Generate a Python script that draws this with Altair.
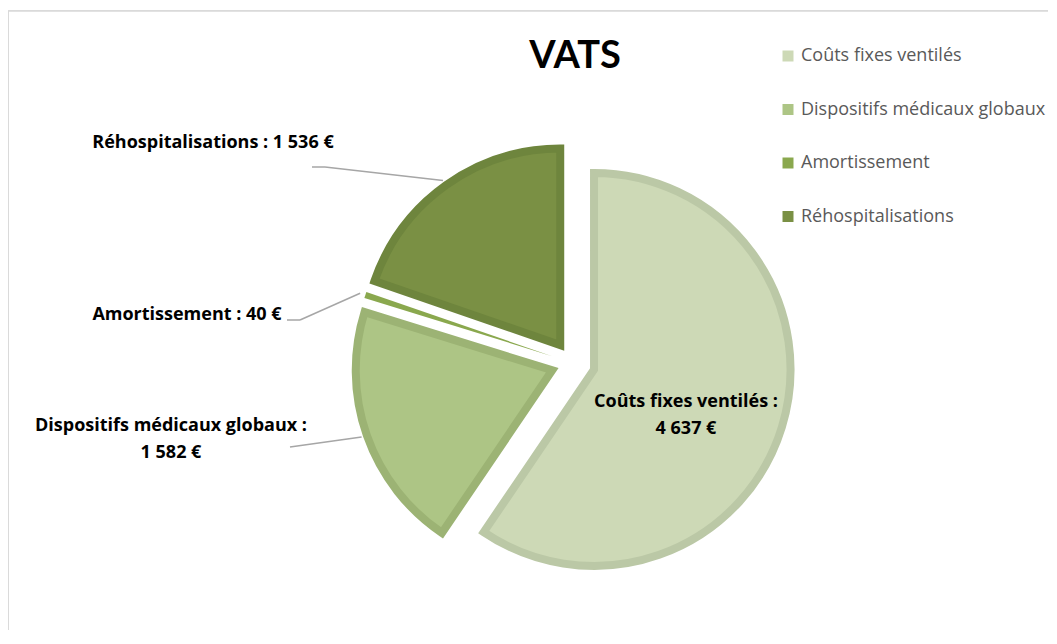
import altair as alt
import pandas as pd

# ---------------- data ----------------
categories = ["Coûts fixes ventilés", "Dispositifs médicaux globaux", "Amortissement", "Réhospitalisations"]
values = [4637, 1582, 40, 1536]
label_lines = [
    ["Coûts fixes ventilés  :", "4 637 €"],
    ["Dispositifs médicaux globaux :", "1 582 €"],
    ["Amortissement : 40 €"],
    ["Réhospitalisations : 1 536 €"],
]
title_text = "VATS"

# ---------------- styles / layout (view pixels) ----------------
fills = ["#cdd9b6", "#adc585", "#8aa84e", "#7a9044"]
strokes = ["#bbc8a6", "#9cb374", "#8aa84e", "#6e853d"]
stroke_widths = [8, 8, 0, 8]
CX, CY = 565, 353
EXPLODE = 22
RADIUS = 196.5
LEAD_R = 202
# label centre (x, y of first line) per category
label_xy = [(678, 392), (163, 416), (179, 305), (205, 133)]
# leader: start x, start y, elbow x  (None => no leader)
leader = [None, (282, 437, 282), (279, 310, 292), (304, 157, 317)]

rows = []
for i, c in enumerate(categories):
    ld = leader[i]
    rows.append({
        "cat": c, "value": values[i], "order": i,
        "stroke_col": strokes[i], "stroke_w": stroke_widths[i],
        "lines": label_lines[i], "lx": label_xy[i][0], "ly": label_xy[i][1],
        "has_lead": ld is not None,
        "sx": ld[0] if ld else 0, "sy": ld[1] if ld else 0, "ex": ld[2] if ld else 0,
    })
df = pd.DataFrame(rows)

base = (
    alt.Chart(df)
    .transform_joinaggregate(total="sum(value)")
    .transform_window(cum="sum(value)", sort=[alt.SortField("order")], frame=[None, 0])
    .transform_calculate(t0="(datum.cum - datum.value) / datum.total * 2 * PI")
    .transform_calculate(t1="datum.cum / datum.total * 2 * PI")
    .transform_calculate(mid="(datum.t0 + datum.t1) / 2")
    .transform_calculate(px=f"{CX} + {EXPLODE} * sin(datum.mid)")
    .transform_calculate(py=f"{CY} - {EXPLODE} * cos(datum.mid)")
    .transform_calculate(qx=f"datum.px + {LEAD_R} * sin(datum.mid)")
    .transform_calculate(qy=f"datum.py - {LEAD_R} * cos(datum.mid)")
)

arc_enc = dict(
    theta=alt.Theta("t0:Q", scale=None),
    theta2="t1:Q",
    x=alt.X("px:Q", scale=None, axis=None),
    y=alt.Y("py:Q", scale=None, axis=None),
)

arcs_fill = base.mark_arc(outerRadius=RADIUS, strokeWidth=0).encode(
    color=alt.Color(
        "cat:N",
        scale=alt.Scale(domain=categories, range=fills),
        sort=categories,
        legend=alt.Legend(
            title=None, orient="none", legendX=771, legendY=37,
            symbolType="square", symbolSize=121, symbolStrokeWidth=0,
            labelFont="Open Sans", labelFontSize=18, labelColor="#595959",
            labelOffset=4, rowPadding=35.5, labelLimit=400,
        ),
    ),
    **arc_enc,
)

arcs_stroke = base.mark_arc(outerRadius=RADIUS, fillOpacity=0, strokeJoin="miter").encode(
    stroke=alt.Stroke("stroke_col:N", scale=None),
    strokeWidth=alt.StrokeWidth("stroke_w:Q", scale=None),
    **arc_enc,
)

lead_base = base.transform_filter("datum.has_lead")
lead_h = lead_base.mark_rule(color="#a6a6a6", strokeWidth=1.5).encode(
    x=alt.X("sx:Q", scale=None, axis=None), y=alt.Y("sy:Q", scale=None, axis=None),
    x2="ex:Q", y2="sy:Q",
)
lead_d = lead_base.mark_rule(color="#a6a6a6", strokeWidth=1.5).encode(
    x=alt.X("ex:Q", scale=None, axis=None), y=alt.Y("sy:Q", scale=None, axis=None),
    x2="qx:Q", y2="qy:Q",
)

labels = base.mark_text(
    font="Open Sans", fontWeight="bold", fontSize=18, color="#000000",
    align="center", baseline="middle", lineHeight=27,
).encode(
    x=alt.X("lx:Q", scale=None, axis=None),
    y=alt.Y("ly:Q", scale=None, axis=None),
    text="lines",
)

title = alt.Chart(pd.DataFrame({"t": [title_text]})).mark_text(
    font="Lato", fontWeight="bold", fontSize=38, color="#000000", align="center", baseline="middle",
).encode(x=alt.value(567), y=alt.value(47), text="t:N")

frame_top = alt.Chart(pd.DataFrame({"a": [0]})).mark_rule(color="#d9d9d9", strokeWidth=1.5).encode(
    x=alt.value(0), x2=alt.value(1049), y=alt.value(1)
)
frame_left = alt.Chart(pd.DataFrame({"a": [0]})).mark_rule(color="#d9d9d9", strokeWidth=1.5).encode(
    x=alt.value(0), y=alt.value(1), y2=alt.value(630)
)

chart = (
    alt.layer(frame_top, frame_left, lead_h, lead_d, arcs_fill, arcs_stroke, labels, title)
    .properties(width=1040, height=620, autosize=alt.AutoSizeParams(type="none"),
                padding={"left": 0, "top": 2, "right": 0, "bottom": 0})
    .configure_view(stroke=None)
    .configure(background="#ffffff")
)

chart.save("out.html", embed_options={"renderer": "svg", "actions": False})
